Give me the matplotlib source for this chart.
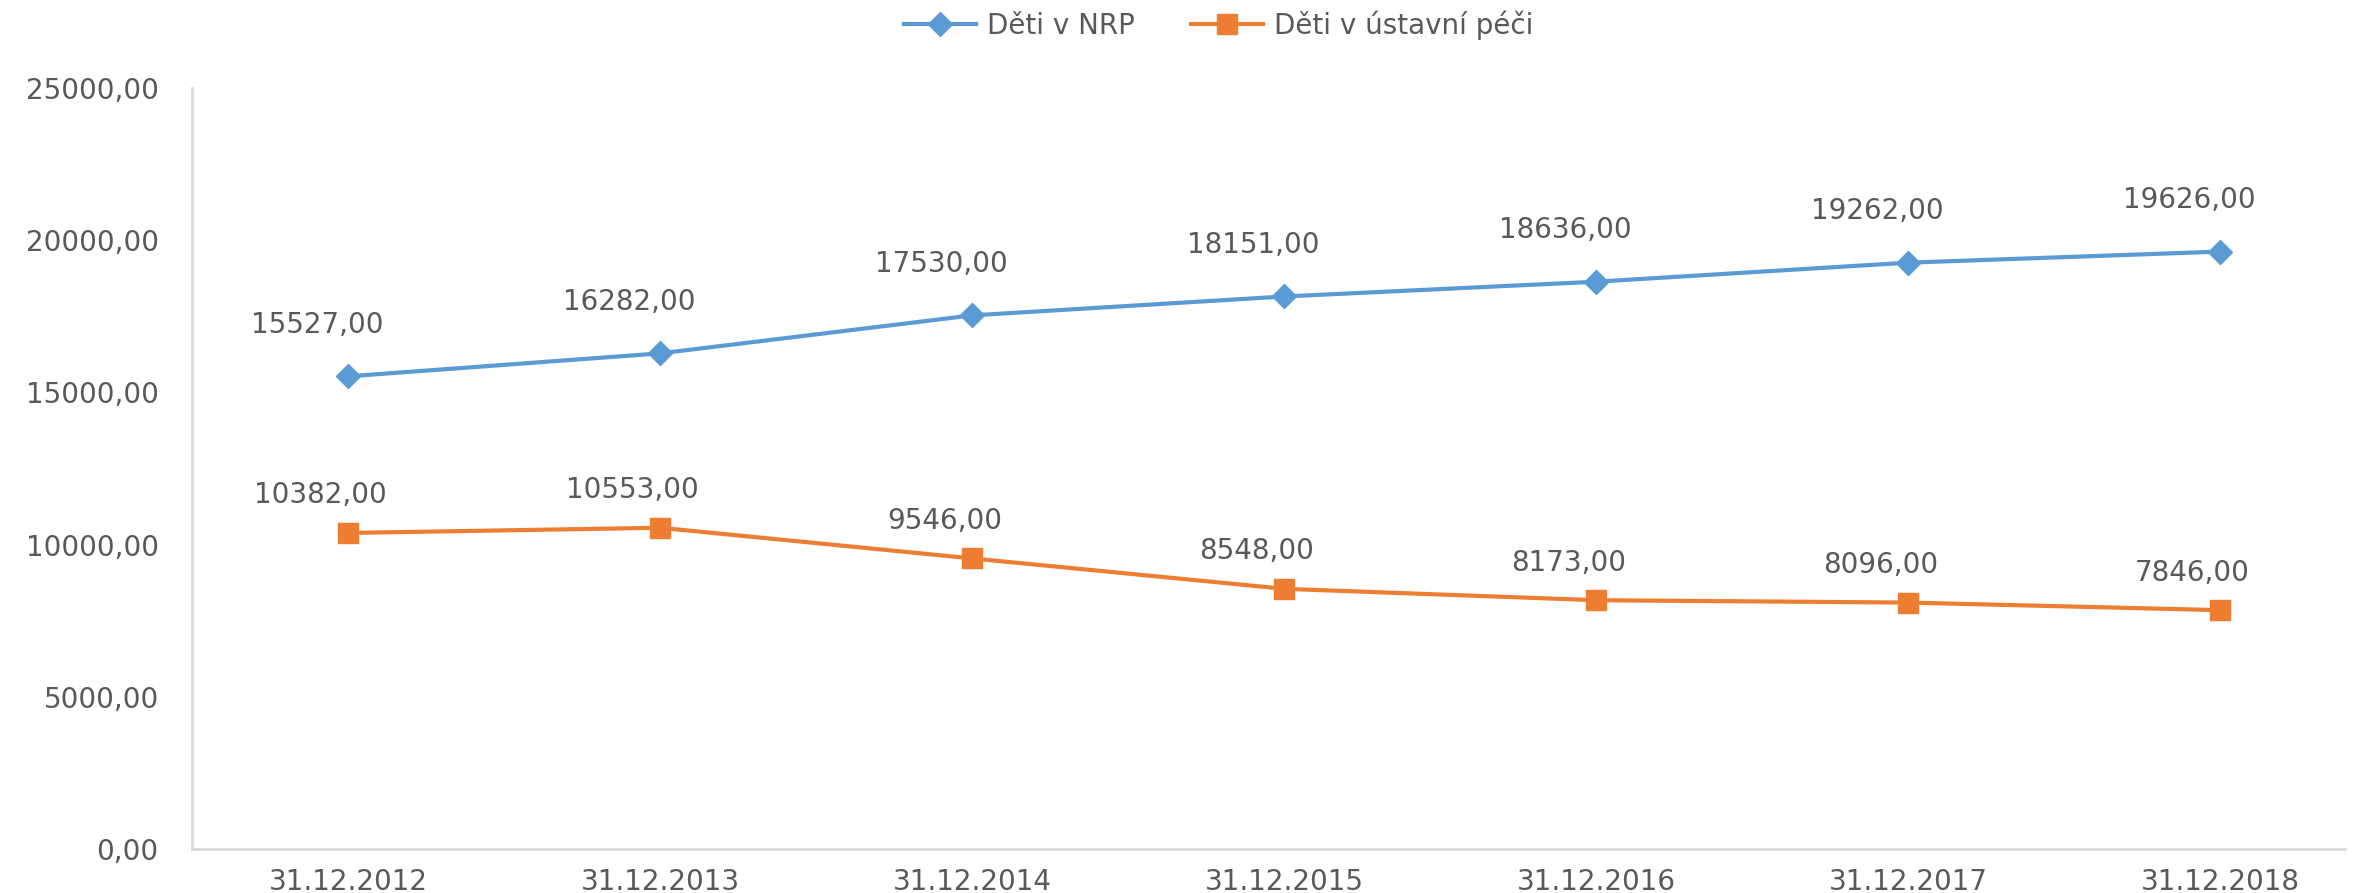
import matplotlib
matplotlib.use("Agg")
import matplotlib.pyplot as plt
from matplotlib.ticker import FuncFormatter

categories = ["31.12.2012", "31.12.2013", "31.12.2014", "31.12.2015",
              "31.12.2016", "31.12.2017", "31.12.2018"]
nrp = [15527, 16282, 17530, 18151, 18636, 19262, 19626]
ustavni = [10382, 10553, 9546, 8548, 8173, 8096, 7846]
series_names = ["Děti v NRP", "Děti v ústavní péči"]
yticks = [0, 5000, 10000, 15000, 20000, 25000]

BLUE = "#5B9BD5"
ORANGE = "#ED7D31"
TXT = "#595959"
AXC = "#D9D9D9"

plt.rcParams['font.family'] = ['DejaVu Sans']

fig = plt.figure(figsize=(23.76, 8.93), dpi=100)
ax = fig.add_axes([192/2376, (893-849)/893, (2345-192)/2376, (849-88)/893])

x = list(range(len(categories)))
l1, = ax.plot(x, nrp, color=BLUE, lw=3, marker='D', ms=12, label=series_names[0])
l2, = ax.plot(x, ustavni, color=ORANGE, lw=3, marker='s', ms=15, label=series_names[1])

fmt = lambda v: f"{v:.2f}".replace(".", ",")
for xi, v in zip(x, nrp):
    ax.annotate(fmt(v), (xi, v), xytext=(-22, 37), textcoords='offset points',
                ha='center', va='center', fontsize=20, color=TXT)
for xi, v in zip(x, ustavni):
    ax.annotate(fmt(v), (xi, v), xytext=(-20, 27), textcoords='offset points',
                ha='center', va='center', fontsize=20, color=TXT)

ax.set_xlim(-0.5, 6.4)
ax.set_ylim(0, 25000)
ax.set_yticks(yticks)
ax.yaxis.set_major_formatter(FuncFormatter(lambda v, p: f"{int(v)},00"))
ax.set_xticks(x)
ax.set_xticklabels(categories)
ax.tick_params(axis='both', length=0, colors=TXT, labelsize=20)
ax.tick_params(axis='y', pad=24)
ax.tick_params(axis='x', pad=14)
for s in ['top', 'right']:
    ax.spines[s].set_visible(False)
for s in ['left', 'bottom']:
    ax.spines[s].set_color(AXC)
    ax.spines[s].set_linewidth(2)

fig.legend(handles=[l1, l2], loc='center', bbox_to_anchor=(0.513, 0.972), ncol=2,
           frameon=False, fontsize=20, labelcolor=TXT, handlelength=2.6,
           columnspacing=2.0, handletextpad=0.4)

fig.savefig("out.png", dpi=100)
